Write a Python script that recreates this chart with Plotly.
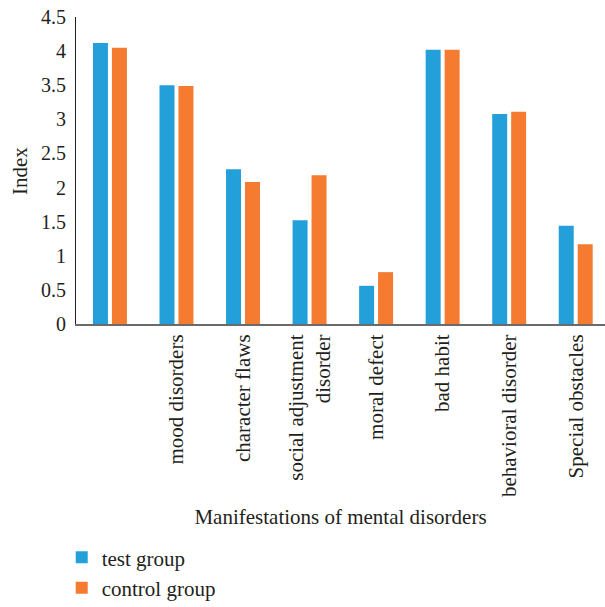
import plotly.graph_objects as go

# Categories (the first group has no label)
categories = [
    "",
    "mood disorders",
    "character flaws",
    "social adjustment<br>disorder",
    "moral defect",
    "bad habit",
    "behavioral disorder",
    "Special obstacles",
]
test_group = [4.12, 3.50, 2.27, 1.52, 0.56, 4.02, 3.08, 1.44]
control_group = [4.05, 3.49, 2.08, 2.18, 0.76, 4.02, 3.11, 1.17]
y_ticks = [0, 0.5, 1, 1.5, 2, 2.5, 3, 3.5, 4, 4.5]
y_tick_text = ["0", "0.5", "1", "1.5", "2", "2.5", "3", "3.5", "4", "4.5"]

positions = list(range(len(categories)))
FONT = "Liberation Serif, DejaVu Serif, serif"

fig = go.Figure()
fig.add_trace(go.Bar(x=positions, y=test_group, name="test group",
                     marker=dict(color="#239FDA", line=dict(width=0))))
fig.add_trace(go.Bar(x=positions, y=control_group, name="control group",
                     marker=dict(color="#F47B30", line=dict(width=0))))

fig.update_layout(
    width=605, height=607,
    margin=dict(l=76, r=0, t=17, b=283, autoexpand=False),
    paper_bgcolor="white", plot_bgcolor="white",
    font=dict(family=FONT, size=21, color="#231f20"),
    barmode="group", bargap=0.43, bargroupgap=0.21,
    showlegend=True,
    legend=dict(orientation="v", xref="container", yref="container",
                x=0.102, xanchor="left", y=0.115, yanchor="top",
                font=dict(size=21), traceorder="normal", itemwidth=30,
                bgcolor="rgba(0,0,0,0)"),
    xaxis=dict(
        range=[-0.51, 7.44], tickmode="array", tickvals=positions, ticktext=categories,
        tickangle=-90, tickfont=dict(size=21), showgrid=False, zeroline=False,
        showline=True, linecolor="#6b6b6b", linewidth=2, ticks="",
        title=dict(text="Manifestations of mental disorders", font=dict(size=21), standoff=13),
        automargin=False,
    ),
    yaxis=dict(
        range=[0, 4.5], tickmode="array", tickvals=y_ticks, ticktext=y_tick_text,
        tickfont=dict(size=20), showgrid=False, zeroline=False,
        showline=True, linecolor="#231f20", linewidth=1, ticks="",
        ticklabelstandoff=5, automargin=False,
    ),
    annotations=[
        dict(text="Index", textangle=-90, xref="paper", yref="paper",
             x=-0.106, y=0.498, xanchor="center", yanchor="middle",
             showarrow=False, font=dict(size=21)),
    ],
)

fig.write_html("out.html")
